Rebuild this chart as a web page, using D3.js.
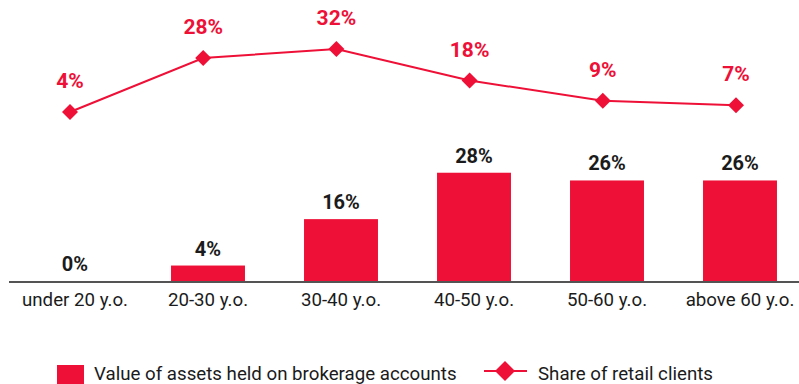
<!DOCTYPE html>
<html>
<head>
<meta charset="utf-8">
<script src="https://cdn.jsdelivr.net/npm/d3@7"></script>
<style>
  html, body { margin: 0; padding: 0; background: #fff; }
  svg { display: block; font-family: Roboto, "Noto Sans", sans-serif; }
</style>
</head>
<body>
<svg id="chart" width="799" height="384"></svg>
<script>
// Age groups of retail investors
const categories = ["under 20 y.o.", "20-30 y.o.", "30-40 y.o.", "40-50 y.o.", "50-60 y.o.", "above 60 y.o."];
// Value of assets held on brokerage accounts (%)
const assetValues = [0, 4, 16, 28, 26, 26];
// Share of retail clients (%)
const clientShares = [4, 28, 32, 18, 9, 7];
// Legend entries
const legendLabels = ["Value of assets held on brokerage accounts", "Share of retail clients"];

const RED = "#ee1037";
const INK = "#1b1b1b";

const svg = d3.select("#chart");

const x = d3.scaleBand()
  .domain(categories)
  .range([8.5, 806.5])
  .paddingInner(0.444)
  .paddingOuter(0.222);

const xLine = d3.scalePoint()
  .domain(categories)
  .range([70, 736]);

const yBar = d3.scaleLinear().domain([0, 30]).range([281, 165]);
const yLine = d3.scaleLinear().domain([0, 32]).range([121, 49]);

const fmt = v => v + "%";

// Bars
svg.append("g")
  .selectAll("rect")
  .data(categories)
  .join("rect")
  .attr("x", d => x(d))
  .attr("width", x.bandwidth())
  .attr("y", (d, i) => yBar(assetValues[i]))
  .attr("height", (d, i) => yBar(0) - yBar(assetValues[i]))
  .attr("fill", RED);

// Bar value labels
svg.append("g")
  .selectAll("text")
  .data(categories)
  .join("text")
  .attr("x", d => x(d) + x.bandwidth() / 2)
  .attr("y", (d, i) => yBar(assetValues[i]) - 10)
  .attr("text-anchor", "middle")
  .attr("font-size", 20)
  .attr("font-weight", 700)
  .attr("fill", INK)
  .text((d, i) => fmt(assetValues[i]));

// Category axis
const axis = svg.append("g")
  .attr("transform", `translate(0,${yBar(0) + 0.5})`)
  .call(d3.axisBottom(x).tickSize(0).tickPadding(11));
axis.select(".domain").attr("stroke", INK).attr("stroke-width", 1.6);
axis.selectAll("text")
  .attr("font-size", 18.7)
  .attr("font-family", "Roboto, sans-serif")
  .attr("fill", INK);

// Client share line
const line = d3.line()
  .x(d => xLine(d))
  .y((d, i) => yLine(clientShares[i]));

svg.append("path")
  .datum(categories)
  .attr("d", line)
  .attr("fill", "none")
  .attr("stroke", RED)
  .attr("stroke-width", 2);

const diamond = d3.symbol().type(d3.symbolSquare).size(128);
svg.append("g")
  .selectAll("path")
  .data(categories)
  .join("path")
  .attr("d", diamond)
  .attr("transform", (d, i) => `translate(${xLine(d)},${yLine(clientShares[i])}) rotate(45)`)
  .attr("fill", RED);

svg.append("g")
  .selectAll("text")
  .data(categories)
  .join("text")
  .attr("x", d => xLine(d))
  .attr("y", (d, i) => yLine(clientShares[i]) - 24)
  .attr("text-anchor", "middle")
  .attr("font-size", 21)
  .attr("font-weight", 700)
  .attr("fill", RED)
  .text((d, i) => fmt(clientShares[i]));

// Legend
const legend = svg.append("g");
legend.append("rect")
  .attr("x", 57).attr("y", 365)
  .attr("width", 27).attr("height", 27)
  .attr("fill", RED);
legend.append("text")
  .attr("x", 94).attr("y", 380)
  .attr("font-size", 18.7)
  .attr("fill", INK)
  .text(legendLabels[0]);

legend.append("line")
  .attr("x1", 484).attr("x2", 527)
  .attr("y1", 371).attr("y2", 371)
  .attr("stroke", RED).attr("stroke-width", 2);
legend.append("path")
  .attr("d", d3.symbol().type(d3.symbolSquare).size(200)())
  .attr("transform", "translate(505,371) rotate(45)")
  .attr("fill", RED);
legend.append("text")
  .attr("x", 538).attr("y", 380)
  .attr("font-size", 18.7)
  .attr("fill", INK)
  .text(legendLabels[1]);
</script>
</body>
</html>
